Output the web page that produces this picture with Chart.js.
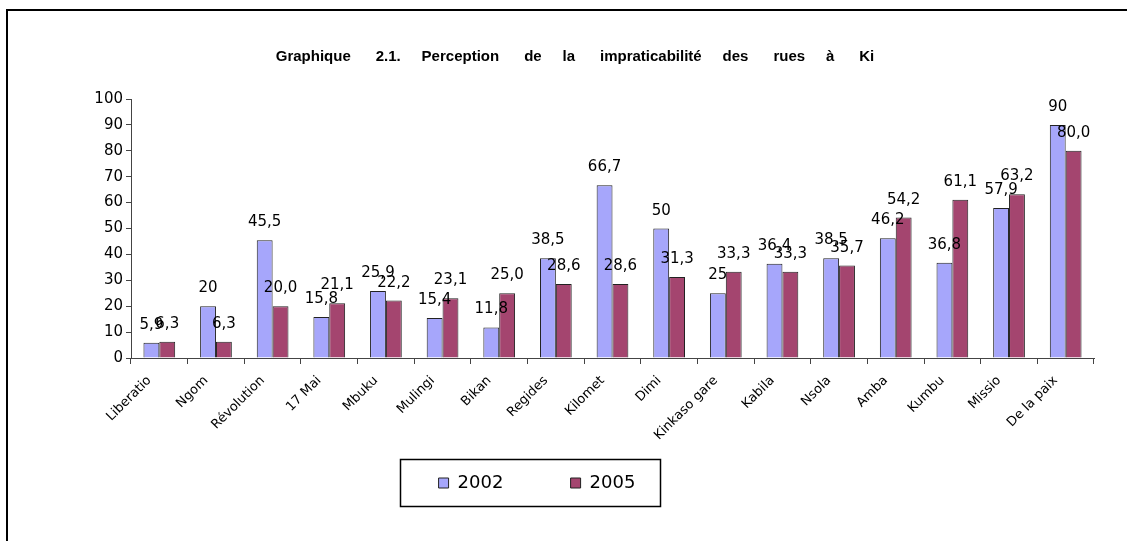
<!DOCTYPE html>
<html>
<head>
<meta charset="utf-8">
<script src="https://cdn.jsdelivr.net/npm/chart.js@4/dist/chart.umd.min.js"></script>
<style>
  html, body { margin: 0; padding: 0; background: #fff; }
  #wrap { position: relative; width: 1127px; height: 541px; overflow: hidden; }
  #cadre { position: absolute; left: 6px; top: 9px; width: 1200px; height: 600px;
           border-left: 2px solid #000; border-top: 2px solid #000; box-sizing: border-box; }
  canvas { position: absolute; left: 0; top: 0; }
</style>
</head>
<body>
<div id="wrap">
  <div id="cadre"></div>
  <canvas id="graph" width="1127" height="541"></canvas>
</div>
<script>
// Graphique 2.1
const rues = ["Liberatio", "Ngom", "Révolution", "17 Mai", "Mbuku", "Mulingi", "Bikan",
  "Regides", "Kilomet", "Dimi", "Kinkaso gare", "Kabila", "Nsola", "Amba", "Kumbu",
  "Missio", "De la paix"];
const v2002 = [5.9, 20, 45.5, 15.8, 25.9, 15.4, 11.8, 38.5, 66.7, 50, 25, 36.4, 38.5, 46.2, 36.8, 57.9, 90];
const v2005 = [6.3, 6.3, 20.0, 21.1, 22.2, 23.1, 25.0, 28.6, 28.6, 31.3, 33.3, 33.3, 35.7, 54.2, 61.1, 63.2, 80.0];
const yTicks = [0, 10, 20, 30, 40, 50, 60, 70, 80, 90, 100];

const BLEU = "#a6a6fb";
const BORDEAUX = "#a4456f";
const POLICE = "DejaVu Sans";

// étiquettes de valeurs : 2002 tel quel, 2005 avec une décimale (format français)
const fmt2002 = (v) => String(v).replace(".", ",");
const fmt2005 = (v) => v.toFixed(1).replace(".", ",");

// --- étiquettes au-dessus des barres
const etiquettes = {
  id: "etiquettes",
  afterDatasetsDraw(chart) {
    const ctx = chart.ctx;
    ctx.save();
    ctx.font = `15px "${POLICE}"`;
    ctx.fillStyle = "#000";
    ctx.textAlign = "center";
    ctx.textBaseline = "alphabetic";
    chart.data.datasets.forEach((ds, i) => {
      const meta = chart.getDatasetMeta(i);
      meta.data.forEach((bar, j) => {
        const txt = i === 0 ? fmt2002(ds.data[j]) : fmt2005(ds.data[j]);
        ctx.fillText(txt, bar.x, bar.y - 14);
      });
    });
    ctx.restore();
  }
};

// --- position du titre / légende + cadre de légende
const LEGENDE_Y = 483;   // centre de la ligne de légende
const LEGENDE_DX = -10;  // décalage horizontal de la légende
const TITRE_DX = 28;
const mise = {
  id: "mise",
  afterLayout(chart) {
    const L = chart.legend;
    if (L) {
      const pad = L.options.labels.padding;
      const fs = L.options.labels.font.size;
      const top = LEGENDE_Y - pad - fs / 2;
      L.bottom = top + L.height;
      L.top = top;
      L.left += LEGENDE_DX;
      L.right += LEGENDE_DX;
    }
    const T = chart.titleBlock;
    if (T) { T.left += TITRE_DX; T.right += TITRE_DX; }
  },
  afterDraw(chart) {
    const L = chart.legend;
    if (!L) return;
    const cx = (L.left + L.right) / 2;
    const ctx = chart.ctx;
    ctx.save();
    ctx.strokeStyle = "#000";
    ctx.lineWidth = 1.5;
    ctx.strokeRect(Math.round(cx - 137) + 0.5, LEGENDE_Y - 23.5, 260, 47);
    ctx.restore();
  }
};

new Chart(document.getElementById("graph"), {
  type: "bar",
  data: {
    labels: rues,
    datasets: [
      { label: "2002", data: v2002, backgroundColor: BLEU, borderColor: "#222", borderWidth: 1 },
      { label: "2005", data: v2005, backgroundColor: BORDEAUX, borderColor: "#222", borderWidth: 1 }
    ]
  },
  options: {
    responsive: false,
    animation: false,
    layout: { padding: { left: 0, right: 33, top: 0, bottom: 0 } },
    datasets: { bar: { categoryPercentage: 0.56, barPercentage: 1 } },
    plugins: {
      title: {
        display: true,
        text: "Graphique      2.1.     Perception      de     la      impraticabilité     des      rues     à      Ki",
        color: "#000",
        font: { family: "Liberation Sans", size: 15, weight: "bold" },
        padding: { top: 48, bottom: 33 }
      },
      legend: {
        position: "bottom",
        labels: {
          color: "#000",
          font: { family: POLICE, size: 18 },
          boxWidth: 10,
          boxHeight: 10,
          padding: 10,
          // espace entre les deux entrées comme sur l'original
          generateLabels: (chart) => {
            const items = Chart.defaults.plugins.legend.labels.generateLabels(chart);
            items.forEach((it, i) => { if (i === 0) it.text = it.text + "          "; });
            return items;
          }
        }
      },
      tooltip: { enabled: false }
    },
    scales: {
      x: {
        grid: { display: true, drawOnChartArea: false, offset: true, tickLength: 6, color: "#444" },
        border: { display: true, color: "#444", width: 1 },
        ticks: {
          color: "#000",
          font: { family: POLICE, size: 13 },
          maxRotation: 45,
          minRotation: 45,
          autoSkip: false,
          padding: 9,
          labelOffset: -10
        },
        afterFit: (s) => { s.height = 145; }
      },
      y: {
        min: 0,
        max: 100,
        afterBuildTicks: (s) => { s.ticks = yTicks.map(v => ({ value: v })); },
        grid: { display: true, drawOnChartArea: false, tickLength: 5, color: "#444" },
        border: { display: true, color: "#444", width: 1 },
        ticks: { color: "#000", font: { family: POLICE, size: 15 }, padding: 3 },
        afterFit: (s) => { s.width = 131; }
      }
    }
  },
  plugins: [etiquettes, mise]
});
</script>
</body>
</html>
